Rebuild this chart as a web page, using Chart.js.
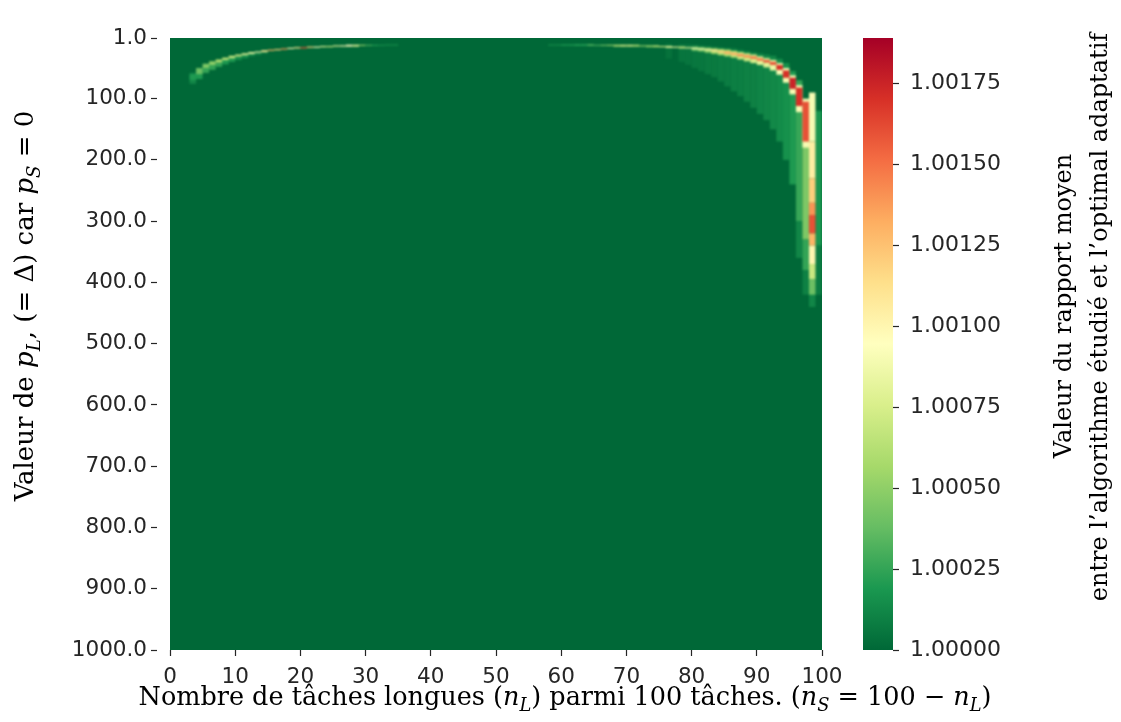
<!DOCTYPE html>
<html>
<head>
<meta charset="utf-8">
<script src="https://cdn.jsdelivr.net/npm/chart.js@4.4.1/dist/chart.umd.min.js"></script>
<style>
  body { margin: 0; background: #fff; }
  #wrap { position: relative; width: 1121px; height: 722px; }
  canvas { position: absolute; top: 0; }
  #heat { left: 0; }
  #cbar { left: 843px; }
</style>
</head>
<body>
<div id="wrap">
  <canvas id="heat" width="1121" height="722"></canvas>
  <canvas id="cbar" width="278" height="722"></canvas>
</div>
<script>
// axes
const xTicks = [0, 10, 20, 30, 40, 50, 60, 70, 80, 90, 100];
const yTicks = [1, 100, 200, 300, 400, 500, 600, 700, 800, 900, 1000];
const cbTicks = [1.0, 1.00025, 1.0005, 1.00075, 1.001, 1.00125, 1.0015, 1.00175];
const nRange = [0, 100];
const pRange = [1, 1000];
const ratioMin = 1.0;
const ratioMax = 1.00189;
const baseRatio = 1.0; // every cell not listed below

// RdYlGn_r
const cmapStops = ['#006837', '#1a9850', '#66bd63', '#a6d96a', '#d9ef8b', '#ffffbf',
                   '#fee08b', '#fdae61', '#f46d43', '#d73027', '#a50026'];

// cells: [n_L, p_L from, p_L to, ratio]
const glowCells = [
  [76, 10, 35, 1.00004], [78, 11, 40, 1.00005], [79, 11, 45, 1.00005], [80, 12, 50, 1.00006],
  [81, 13, 55, 1.00006], [82, 14, 60, 1.00007], [83, 15, 65, 1.00007], [84, 16, 72, 1.00008],
  [85, 17, 80, 1.00008], [86, 18, 88, 1.00009], [87, 20, 96, 1.00009], [88, 22, 105, 1.0001],
  [89, 24, 115, 1.0001], [90, 26, 125, 1.00011], [91, 28, 135, 1.00012], [92, 30, 150, 1.00013],
  [93, 35, 170, 1.00014], [94, 42, 200, 1.00016], [95, 55, 240, 1.0002], [96, 70, 300, 1.00026],
  [96, 300, 360, 1.00012], [97, 150, 330, 1.00045], [97, 330, 380, 1.00025], [97, 380, 420, 1.0001],
  [98, 380, 440, 1.00012], [99, 120, 340, 1.00018], [99, 340, 420, 1.00008]
];
const leftArcHalo = [
  [3, 58, 76, 1.00012], [4, 58, 68, 1.0002], [5, 50, 58, 1.00025], [6, 45, 53, 1.00025],
  [7, 41, 48, 1.00025], [8, 37, 44, 1.0002], [9, 34, 40, 1.0002], [10, 31, 37, 1.00015],
  [11, 29, 34, 1.00015], [12, 27, 31, 1.00012], [13, 25, 29, 1.0001], [14, 24, 27, 1.00008]
];
const leftArcPeak = [
  [3, 60, 70, 1.0002], [4, 50, 60, 1.0004], [5, 43, 50, 1.00045], [6, 39, 45, 1.0005],
  [7, 36, 41, 1.0006], [8, 33, 37, 1.00065], [9, 30, 34, 1.0007], [10, 28, 31, 1.00075],
  [11, 26, 29, 1.0008], [12, 24, 27, 1.00085], [13, 23, 25, 1.0009], [14, 21, 24, 1.0011],
  [15, 20, 22, 1.0013], [16, 19, 21, 1.0012], [17, 18, 20, 1.0014], [18, 17, 19, 1.001],
  [19, 16, 18, 1.0011], [20, 16, 18, 1.0016], [21, 15, 17, 1.0012], [22, 15, 17, 1.0009],
  [23, 14, 16, 1.0008], [24, 14, 16, 1.0007], [25, 13, 15, 1.0008], [26, 13, 15, 1.0009],
  [27, 12, 15, 1.00095], [28, 12, 15, 1.0008], [29, 12, 14, 1.0005], [30, 12, 14, 1.0003],
  [31, 12, 14, 1.0002], [32, 12, 14, 1.00015], [33, 11, 14, 1.0001], [34, 11, 14, 1.0001]
];
const rightArcShoulder = [
  [80, 15, 22, 1.0004], [81, 16, 23, 1.00045], [82, 17, 25, 1.0005], [83, 18, 27, 1.00055],
  [84, 19, 29, 1.0006], [85, 20, 31, 1.0006], [86, 22, 33, 1.00065], [87, 24, 36, 1.0007],
  [88, 26, 39, 1.0007], [89, 28, 42, 1.00075], [90, 31, 45, 1.0008], [91, 34, 49, 1.0008],
  [92, 37, 54, 1.00085], [93, 42, 61, 1.0009], [94, 50, 74, 1.0009], [95, 62, 93, 1.0009],
  [96, 78, 122, 1.0009], [97, 100, 180, 1.0009]
];
const rightArcPeak = [
  [58, 11, 14, 1.0001], [59, 11, 14, 1.0001], [60, 11, 14, 1.00015], [61, 11, 14, 1.00015],
  [62, 11, 14, 1.0002], [63, 11, 14, 1.0002], [64, 11, 14, 1.0003], [65, 12, 14, 1.0003],
  [66, 12, 14, 1.0004], [67, 12, 14, 1.0005], [68, 12, 15, 1.0006], [69, 12, 15, 1.0007],
  [70, 12, 15, 1.0007], [71, 12, 15, 1.0006], [72, 13, 15, 1.0005], [73, 13, 16, 1.0005],
  [74, 13, 16, 1.0006], [75, 14, 16, 1.0007], [76, 14, 17, 1.0008], [77, 15, 17, 1.0008],
  [78, 15, 18, 1.0007], [79, 16, 18, 1.0008], [80, 17, 19, 1.0009], [81, 18, 20, 1.0009],
  [82, 19, 21, 1.001], [83, 20, 23, 1.0011], [84, 22, 25, 1.0012], [85, 23, 27, 1.0013],
  [86, 25, 29, 1.0013], [87, 27, 31, 1.0014], [88, 29, 33, 1.0014], [89, 31, 35, 1.0015],
  [90, 34, 38, 1.0015], [91, 37, 41, 1.0016], [92, 40, 45, 1.0016], [93, 45, 53, 1.0017],
  [94, 54, 66, 1.0017], [95, 66, 84, 1.00175], [96, 82, 112, 1.0017], [97, 105, 170, 1.0016]
];
const bandCells = [
  [98, 90, 170, 1.0009], [98, 170, 230, 1.00105], [98, 230, 270, 1.0012], [98, 270, 290, 1.0014],
  [98, 290, 320, 1.0016], [98, 320, 340, 1.0013], [98, 340, 370, 1.001], [98, 370, 395, 1.0007],
  [98, 395, 420, 1.0004]
];

const allCells = [...glowCells, ...leftArcHalo, ...leftArcPeak, ...rightArcShoulder, ...rightArcPeak, ...bandCells]
  .map(([n, p0, p1, v]) => ({ x: n, y: p0, y1: p1, v }));

const cmapRgb = cmapStops.map(h => [1, 3, 5].map(i => parseInt(h.slice(i, i + 2), 16)));
function ratioColor(v) {
  let t = (v - ratioMin) / (ratioMax - ratioMin);
  t = Math.max(0, Math.min(1, t)) * (cmapRgb.length - 1);
  const i = Math.min(Math.floor(t), cmapRgb.length - 2), f = t - i;
  const a = cmapRgb[i], b = cmapRgb[i + 1];
  return 'rgb(' + a.map((c, k) => Math.round(c + (b[k] - c) * f)).join(',') + ')';
}

// text with math bits (italic + subscripts)
function drawRich(ctx, parts, cx, cy, angle, size) {
  ctx.save();
  ctx.translate(cx, cy);
  ctx.rotate(angle);
  ctx.fillStyle = '#000';
  ctx.textBaseline = 'alphabetic';
  const fontOf = p => (p.it ? 'italic ' : '') + (p.sub ? size * 0.7 : size) + 'px "DejaVu Serif"';
  let w = 0;
  parts.forEach(p => { ctx.font = fontOf(p); w += ctx.measureText(p.t).width; });
  let xx = -w / 2;
  parts.forEach(p => {
    ctx.font = fontOf(p);
    ctx.fillText(p.t, xx, p.sub ? size * 0.25 : 0);
    xx += ctx.measureText(p.t).width;
  });
  ctx.restore();
}

const xLabel = [
  { t: 'Nombre de tâches longues (' }, { t: 'n', it: 1 }, { t: 'L', it: 1, sub: 1 },
  { t: ') parmi 100 tâches. (' }, { t: 'n', it: 1 }, { t: 'S', it: 1, sub: 1 },
  { t: ' = 100 − ' }, { t: 'n', it: 1 }, { t: 'L', it: 1, sub: 1 }, { t: ')' }
];
const yLabel = [
  { t: 'Valeur de ' }, { t: 'p', it: 1 }, { t: 'L', it: 1, sub: 1 }, { t: ', (= Δ) car ' },
  { t: 'p', it: 1 }, { t: 'S', it: 1, sub: 1 }, { t: ' = 0' }
];
const cbLabel = ['Valeur du rapport moyen', 'entre l\u2019algorithme étudié et l\u2019optimal adaptatif'];

const TICK_COLOR = '#262626';

const heatCells = {
  id: 'heatCells',
  beforeDatasetsDraw(chart) {
    const { ctx, chartArea: a, scales: { x, y } } = chart;
    ctx.save();
    ctx.beginPath();
    ctx.rect(a.left, a.top, a.right - a.left, a.bottom - a.top);
    ctx.clip();
    const bx0 = x.getPixelForValue(nRange[0]), bx1 = x.getPixelForValue(nRange[1]);
    const by0 = y.getPixelForValue(pRange[0]), by1 = y.getPixelForValue(pRange[1]);
    ctx.fillStyle = ratioColor(baseRatio);
    ctx.fillRect(bx0, by0, bx1 - bx0, by1 - by0);

    const off = document.createElement('canvas');
    off.width = chart.width; off.height = chart.height;
    const o = off.getContext('2d');
    chart.data.datasets[0].data.forEach(c => {
      const x0 = x.getPixelForValue(c.x), x1 = x.getPixelForValue(Math.min(c.x + 1, nRange[1]));
      const y0 = y.getPixelForValue(c.y), y1 = y.getPixelForValue(c.y1);
      o.fillStyle = ratioColor(c.v);
      o.fillRect(x0, y0, x1 - x0, y1 - y0);
    });
    ctx.filter = 'blur(0.9px)';
    ctx.drawImage(off, 0, 0);
    ctx.restore();
  },
  afterDraw(chart) {
    const { ctx } = chart;
    drawRich(ctx, xLabel, 565, 705, 0, 25.5);
    drawRich(ctx, yLabel, 33, 306, -Math.PI / 2, 26);
  }
};

new Chart(document.getElementById('heat'), {
  type: 'scatter',
  data: { datasets: [{ data: allCells, pointRadius: 0 }] },
  plugins: [heatCells],
  options: {
    responsive: false,
    animation: false,
    layout: { padding: { left: 0, top: 38, right: 299, bottom: 0 } },
    plugins: { legend: { display: false }, tooltip: { enabled: false } },
    scales: {
      x: {
        type: 'linear', position: 'bottom', min: nRange[0], max: nRange[1],
        afterBuildTicks: s => { s.ticks = xTicks.map(v => ({ value: v })); },
        afterFit: s => { s.height = 72; },
        ticks: { color: TICK_COLOR, font: { family: 'DejaVu Sans', size: 21.5 }, padding: 9,
                 maxRotation: 0, autoSkip: false },
        grid: { drawOnChartArea: false, drawTicks: true, tickLength: 6, color: TICK_COLOR, tickWidth: 1.2 },
        border: { display: false }
      },
      y: {
        type: 'linear', position: 'left', reverse: true, min: pRange[0], max: pRange[1],
        afterBuildTicks: s => { s.ticks = yTicks.map(v => ({ value: v })); },
        afterFit: s => { s.width = 170; },
        ticks: { color: TICK_COLOR, font: { family: 'DejaVu Sans', size: 21.5 }, padding: 4,
                 autoSkip: false, callback: v => Number(v).toFixed(1) },
        grid: { drawOnChartArea: false, drawTicks: true, tickLength: 19, color: TICK_COLOR,
                tickWidth: 1.2, tickBorderDash: [6, 40] },
        border: { display: false }
      }
    }
  }
});

const cbTitle = {
  id: 'cbTitle',
  afterDraw(chart) {
    const { ctx } = chart;
    drawRich(ctx, [{ t: cbLabel[0] }], 1071 - 843, 306, -Math.PI / 2, 24);
    drawRich(ctx, [{ t: cbLabel[1] }], 1107 - 843, 317, -Math.PI / 2, 24);
  }
};

new Chart(document.getElementById('cbar'), {
  type: 'bar',
  data: {
    labels: [''],
    datasets: [{
      data: [[ratioMin, ratioMax]],
      barPercentage: 1, categoryPercentage: 1, borderWidth: 0,
      backgroundColor: c => {
        const { chart } = c;
        if (!chart.chartArea) return cmapStops[0];
        const ys = chart.scales.y;
        const g = chart.ctx.createLinearGradient(0, ys.getPixelForValue(ratioMin), 0, ys.getPixelForValue(ratioMax));
        cmapStops.forEach((col, i) => g.addColorStop(i / (cmapStops.length - 1), col));
        return g;
      }
    }]
  },
  plugins: [cbTitle],
  options: {
    responsive: false,
    animation: false,
    layout: { padding: { left: 20, top: 38, right: 0, bottom: 72 } },
    plugins: { legend: { display: false }, tooltip: { enabled: false } },
    scales: {
      x: { display: false },
      y: {
        position: 'right', min: ratioMin, max: ratioMax,
        afterBuildTicks: s => { s.ticks = cbTicks.map(v => ({ value: v })); },
        afterFit: s => { s.width = 228; },
        ticks: { color: TICK_COLOR, font: { family: 'DejaVu Sans', size: 22 }, padding: 11,
                 callback: v => Number(v).toFixed(5) },
        grid: { drawOnChartArea: false, drawTicks: true, tickLength: 6, color: TICK_COLOR, tickWidth: 1.2 },
        border: { display: false }
      }
    }
  }
});
</script>
</body>
</html>
